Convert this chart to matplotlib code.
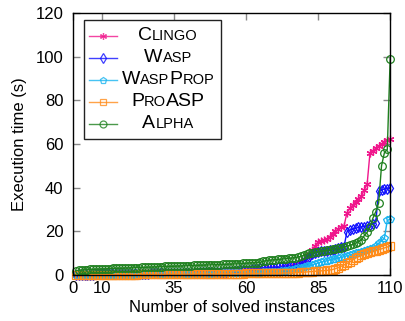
import matplotlib
matplotlib.use("Agg")
import matplotlib.pyplot as plt
from matplotlib.lines import Line2D
from matplotlib.offsetbox import (AnchoredOffsetbox, DrawingArea, HPacker,
                                  TextArea, VPacker)

plt.rcParams['font.family'] = ['Liberation Sans', 'DejaVu Sans']

# Data: sorted run times per solver (cactus plot), instances 1..110
instances = list(range(1, 111))

clingo = [0.0, 0.0, 0.0, 0.1, 0.1, 0.1, 0.1, 0.1, 0.1, 0.1,
          0.1, 0.2, 0.2, 0.2, 0.2, 0.2, 0.2, 0.2, 0.3, 0.3,
          0.3, 0.3, 0.3, 0.3, 0.4, 0.4, 0.4, 0.4, 0.4, 0.5,
          0.5, 0.5, 0.5, 0.5, 0.6, 0.6, 0.6, 0.6, 0.7, 0.7,
          0.7, 0.7, 0.8, 0.8, 0.8, 0.9, 0.9, 0.9, 1.0, 1.0,
          1.0, 1.1, 1.1, 1.2, 1.2, 1.3, 1.3, 1.4, 1.4, 1.5,
          1.5, 1.6, 1.7, 1.8, 1.9, 2.0, 2.1, 2.2, 2.3, 2.4,
          2.5, 2.7, 2.9, 3.1, 3.3, 3.6, 4.0, 4.8, 5.8, 7.0,
          8.5, 9.0, 11.5, 13.5, 15.0, 15.5, 16.0, 16.5, 17.5, 19.0,
          20.0, 21.0, 21.8, 22.5, 28.5, 30.5, 32.0, 33.5, 35.0, 36.0,
          39.0, 41.5, 56.0, 57.0, 58.0, 59.0, 60.0, 61.0, 62.0, 62.5]

wasp = [0.1, 0.1, 0.1, 0.2, 0.2, 0.2, 0.2, 0.3, 0.3, 0.3,
        0.3, 0.3, 0.4, 0.4, 0.4, 0.4, 0.4, 0.5, 0.5, 0.5,
        0.5, 0.5, 0.6, 0.6, 0.6, 0.6, 0.7, 0.7, 0.7, 0.7,
        0.8, 0.8, 0.8, 0.8, 0.9, 0.9, 0.9, 1.0, 1.0, 1.0,
        1.1, 1.1, 1.1, 1.2, 1.2, 1.2, 1.3, 1.3, 1.4, 1.4,
        1.5, 1.5, 1.6, 1.7, 1.8, 1.9, 2.0, 2.1, 2.2, 2.3,
        2.4, 2.6, 2.8, 2.9, 3.0, 3.1, 3.2, 3.3, 3.4, 3.4,
        3.5, 3.5, 3.6, 3.7, 3.8, 3.9, 4.0, 4.5, 5.0, 5.8,
        7.0, 8.4, 9.5, 10.2, 10.5, 10.8, 11.0, 11.2, 11.4, 11.6,
        11.8, 12.2, 12.6, 13.0, 19.8, 20.6, 21.0, 21.4, 21.8, 22.0,
        22.2, 22.5, 22.8, 23.4, 24.0, 38.5, 39.0, 39.3, 39.6, 40.0]

waspprop = [0.0, 0.0, 0.0, 0.0, 0.1, 0.1, 0.1, 0.1, 0.1, 0.1,
            0.1, 0.1, 0.1, 0.1, 0.1, 0.2, 0.2, 0.2, 0.2, 0.2,
            0.2, 0.2, 0.2, 0.2, 0.3, 0.3, 0.3, 0.3, 0.3, 0.3,
            0.3, 0.3, 0.4, 0.4, 0.4, 0.4, 0.4, 0.4, 0.4, 0.5,
            0.5, 0.5, 0.5, 0.5, 0.5, 0.6, 0.6, 0.6, 0.6, 0.6,
            0.7, 0.7, 0.7, 0.7, 0.8, 0.8, 0.8, 0.8, 0.9, 0.9,
            0.9, 1.0, 1.0, 1.1, 1.1, 1.2, 1.2, 1.3, 1.4, 1.5,
            1.6, 1.7, 1.8, 2.0, 2.2, 2.4, 2.7, 3.0, 3.3, 3.6,
            3.9, 4.3, 4.7, 5.1, 5.5, 5.9, 6.2, 6.5, 6.9, 7.2,
            7.5, 7.8, 8.1, 8.4, 8.8, 9.2, 9.6, 10.0, 10.3, 10.6,
            10.9, 11.3, 11.8, 12.4, 13.2, 14.5, 15.6, 16.8, 25.0, 25.5]

proasp = [0.1, 0.1, 0.1, 0.1, 0.1, 0.1, 0.1, 0.1, 0.1, 0.1,
          0.1, 0.1, 0.2, 0.2, 0.2, 0.2, 0.2, 0.2, 0.2, 0.2,
          0.2, 0.2, 0.3, 0.3, 0.3, 0.3, 0.3, 0.3, 0.3, 0.3,
          0.3, 0.3, 0.4, 0.4, 0.4, 0.4, 0.4, 0.4, 0.4, 0.4,
          0.4, 0.5, 0.5, 0.5, 0.5, 0.5, 0.5, 0.5, 0.5, 0.5,
          0.6, 0.6, 0.6, 0.6, 0.6, 0.6, 0.6, 0.6, 0.6, 0.7,
          0.7, 0.7, 0.7, 0.7, 0.7, 0.7, 0.7, 0.7, 0.8, 0.8,
          0.8, 0.8, 0.9, 0.9, 1.0, 1.0, 1.1, 1.1, 1.2, 1.3,
          1.4, 1.5, 1.6, 1.7, 1.8, 1.9, 2.0, 2.1, 2.3, 2.5,
          2.9, 3.4, 4.0, 4.6, 5.3, 6.0, 6.9, 7.7, 8.4, 9.0,
          9.5, 10.0, 10.4, 10.8, 11.2, 11.6, 12.0, 12.4, 12.8, 13.5]

alpha = [2.0, 2.2, 2.3, 2.4, 2.5, 2.6, 2.6, 2.7, 2.7, 2.8,
         2.8, 2.9, 2.9, 3.0, 3.0, 3.1, 3.1, 3.2, 3.2, 3.3,
         3.3, 3.4, 3.4, 3.5, 3.5, 3.6, 3.6, 3.7, 3.7, 3.8,
         3.8, 3.9, 3.9, 4.0, 4.0, 4.1, 4.1, 4.2, 4.2, 4.3,
         4.3, 4.4, 4.4, 4.5, 4.5, 4.6, 4.6, 4.7, 4.7, 4.8,
         4.8, 4.9, 4.9, 5.0, 5.0, 5.1, 5.1, 5.2, 5.3, 5.4,
         5.5, 5.6, 5.6, 5.7, 5.8, 6.3, 6.6, 6.8, 6.9, 7.0,
         7.1, 7.2, 7.4, 7.5, 7.7, 7.8, 8.0, 8.2, 8.5, 9.0,
         9.5, 10.0, 10.3, 10.5, 10.7, 10.9, 11.1, 11.3, 11.5, 11.7,
         11.9, 12.2, 12.5, 12.8, 13.2, 13.6, 14.0, 14.6, 15.3, 16.0,
         18.0, 19.5, 22.0, 26.0, 29.0, 33.0, 50.0, 56.0, 57.5, 99.0]

# legend names as (text, is_big) pieces to mimic small caps
series = [
    (clingo, '#f0168c', (6, 2, 0), [("C", True), ("LINGO", False)]),
    (wasp, '#1010ff', 'd', [("W", True), ("ASP", False)]),
    (waspprop, '#19b4f0', 'p', [("W", True), ("ASP", False), ("P", True), ("ROP", False)]),
    (proasp, '#ff8c1a', 's', [("P", True), ("RO", False), ("ASP", True)]),
    (alpha, '#1e801e', 'o', [("A", True), ("LPHA", False)]),
]

fig = plt.figure(figsize=(4.06, 3.21), dpi=100)
ax = fig.add_axes([0.180, 0.1433, 0.781, 0.8162])

for values, color, marker, _ in series:
    ax.plot(instances, values, color=color, lw=1.0, marker=marker,
            markersize=5.5, markerfacecolor='none', markeredgewidth=0.9,
            markeredgecolor=color, clip_on=False)

ax.set_xlim(0, 110)
ax.set_ylim(0, 120)
ax.set_xticks([0, 10, 35, 60, 85, 110])
ax.set_yticks([0, 20, 40, 60, 80, 100, 120])
ax.tick_params(direction='in', top=True, right=True, length=5,
               width=1, color='#888888', labelsize=12)
ax.tick_params(axis='y', pad=7)
ax.tick_params(axis='x', pad=4)
for sp in ax.spines.values():
    sp.set_color('black')
    sp.set_linewidth(1.0)

ax.set_xlabel("Number of solved instances", fontsize=12, labelpad=3)
ax.set_ylabel("Execution time (s)", fontsize=12, labelpad=6)

# Custom legend with small-caps style labels
rows = []
da_w, da_h = 28 * 0.72, 22 * 0.72
for values, color, marker, pieces in series:
    da = DrawingArea(da_w, da_h, 0, 0)
    da.add_artist(Line2D([0, da_w], [da_h / 2, da_h / 2], color=color,
                         lw=1.0, alpha=0.8))
    da.add_artist(Line2D([da_w / 2], [da_h / 2], color=color, marker=marker,
                         markersize=5, markerfacecolor='none',
                         markeredgewidth=0.9, alpha=0.8))
    parts = [TextArea(txt, textprops=dict(fontsize=14 if big else 10.5,
                                          color='black'))
             for txt, big in pieces]
    label = HPacker(children=parts, align='baseline', pad=0, sep=0)
    label_box = VPacker(children=[label], align='center', width=97,
                        pad=0, sep=0)
    rows.append(HPacker(children=[da, label_box], align='center',
                        height=22, pad=0, sep=2))

content = VPacker(children=rows, align='left', pad=3.3, sep=0)
leg = AnchoredOffsetbox(loc='upper left', child=content, pad=0,
                        borderpad=0, frameon=True,
                        bbox_to_anchor=(0.035, 0.973),
                        bbox_transform=ax.transAxes)
leg.patch.set_edgecolor('#222222')
leg.patch.set_linewidth(1.0)
leg.patch.set_boxstyle('square', pad=0)
ax.add_artist(leg)

fig.savefig("out.png", dpi=100)
